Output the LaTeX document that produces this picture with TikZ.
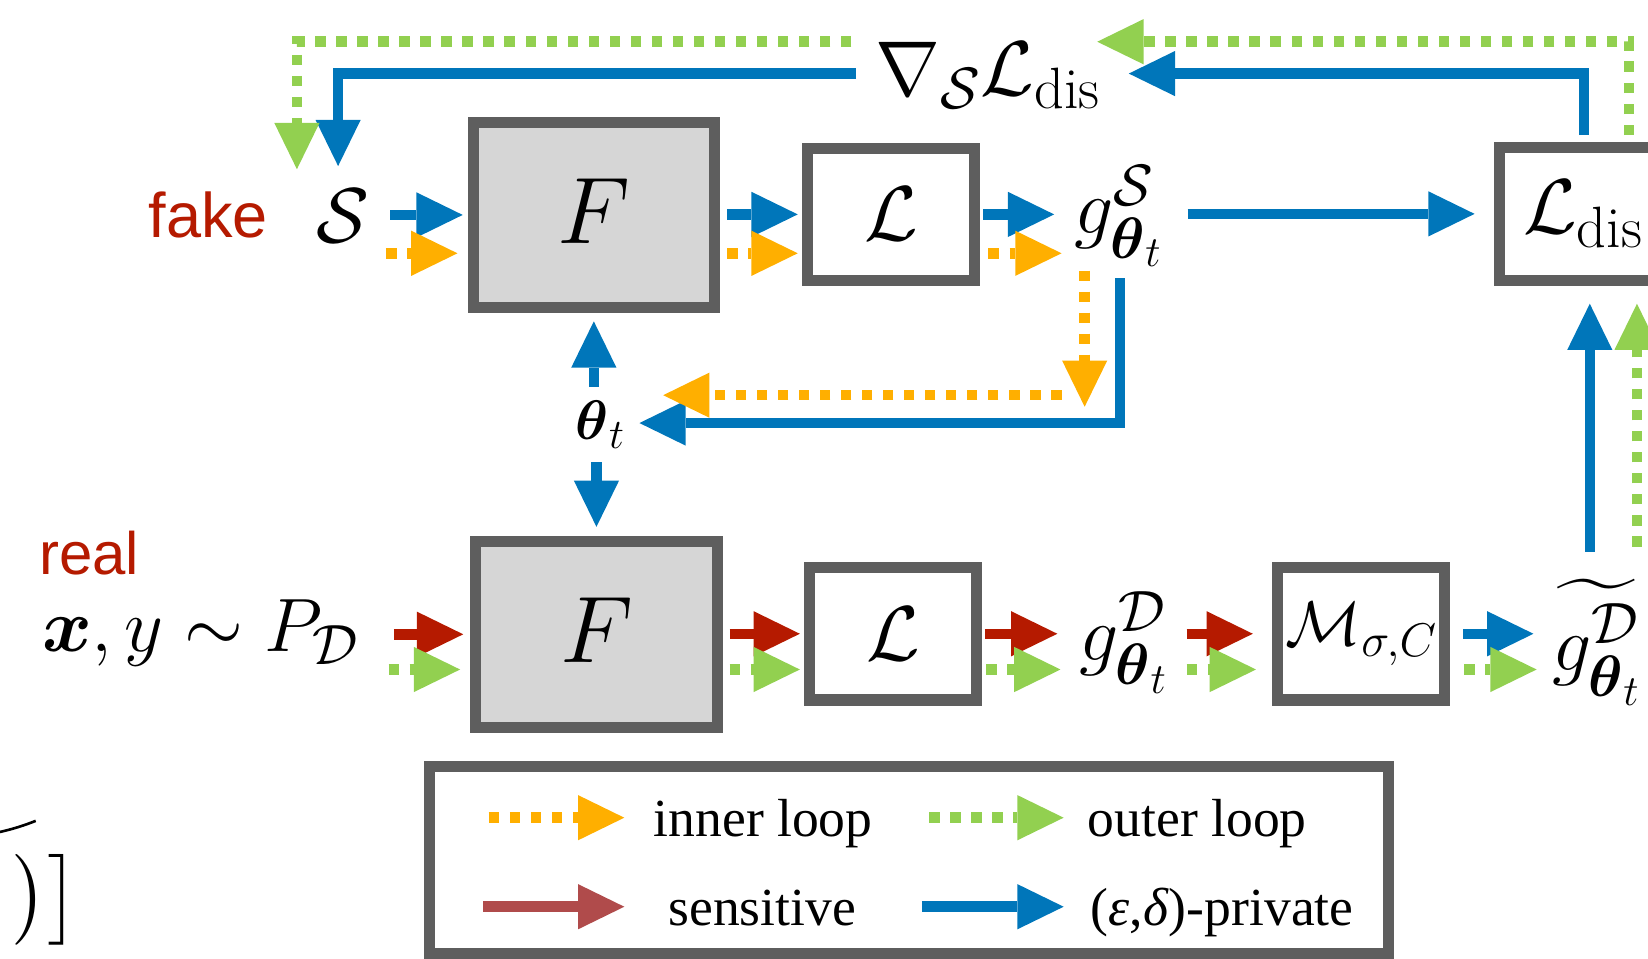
\RequirePackage{fix-cm}
\documentclass[tikz,border=0pt]{standalone}
\usepackage{amsmath}
\usepackage{fontspec}
\usepackage{graphicx}
\newfontfamily\tagface{Liberation Sans}
\newfontfamily\keyface{Liberation Serif}
\usetikzlibrary{arrows.meta,calc}
% let the extension font scale freely
\DeclareFontShape{OMX}{cmex}{m}{n}{<->cmex10}{}
\definecolor{flowblue}{RGB}{0,118,186}
\definecolor{flowred}{RGB}{181,26,0}
\definecolor{flowgreen}{RGB}{146,208,80}
\definecolor{floworange}{RGB}{255,175,0}
\definecolor{keyred}{RGB}{176,75,75}
\definecolor{framegray}{RGB}{94,94,94}
\definecolor{netfill}{RGB}{214,214,214}
\definecolor{tagred}{RGB}{181,26,0}
\newcommand\setsz[1]{\fontsize{#1}{#1}\selectfont}
% big closing paren and bracket taken straight from the extension font
\newcommand\bigclose{{\fontencoding{OMX}\fontfamily{cmex}\selectfont\char"01\char"03}}
% slightly larger scripts than the default ratio
\DeclareMathSizes{74}{74}{55.5}{41}
\DeclareMathSizes{72}{72}{54}{40}
\DeclareMathSizes{60}{60}{45}{33}
\DeclareMathSizes{53}{53}{40}{30}

\begin{document}
\begin{tikzpicture}[x=1pt,y=-1pt,
  smallbox/.style={draw=framegray,line width=10.5pt,fill=white,inner sep=0pt,
    outer sep=0pt,minimum width=159pt,minimum height=126pt},
  netbox/.style={smallbox,fill=netfill,minimum width=229.5pt,minimum height=176.5pt,
    text depth=8pt},
  lbl/.style={inner sep=0pt,outer sep=0pt,anchor=base west},
  flow/.style={line width=10pt,-{Triangle[length=44pt,width=43pt,line width=0pt 0]}},
  bluef/.style={flow,draw=flowblue},
  redf/.style={flow,draw=flowred},
  keyredf/.style={flow,draw=keyred},
  orangef/.style={flow,draw=floworange,dash pattern=on 10pt off 10pt},
  greenf/.style={flow,draw=flowgreen,dash pattern=on 10pt off 10pt},
]
\useasboundingbox (0,0) rectangle (1568,912);

% ---- network and loss blocks ----
\node[netbox] (F1) at (565,204.5) {\setsz{90}$F$};
\node[netbox] (F2) at (567.5,603.5) {\setsz{90}$F$};
\node[smallbox] (L1) at (848,204) {\setsz{74}$\mathcal{L}$};
\node[smallbox] (L2) at (850,603) {\setsz{74}$\mathcal{L}$};
\node[smallbox] (M) at (1295,603) {\setsz{60}$\mathcal{M}_{\sigma,C}$};
\node[smallbox] (Ldis) at (1506,203.5) {\setsz{74}$\mathcal{L}_{\mathrm{dis}}$};

% ---- labels ----
\node[lbl,text=tagred] (fake) at (141.5,226) {\tagface\setsz{60}fake};
\node[lbl,text=tagred] (real) at (37.5,547) {\tagface\setsz{57}real};
\node[inner sep=0pt,outer sep=0pt] (S) at (326,205) {\setsz{74}$\mathcal{S}$};
\node[lbl] (xy) at (40,620) {\setsz{72}$\boldsymbol{x},y\sim P_{\mathcal{D}}$};
\node[lbl] (gS) at (1022,222) {\setsz{74}$g^{\mathcal{S}}_{\boldsymbol{\theta}_t}$};
\node[lbl] (gD) at (1027,628) {\setsz{74}$g^{\mathcal{D}}_{\boldsymbol{\theta}_t}$};
\node[lbl] (gt) at (1477,638) {\setsz{74}$\widetilde{g^{\mathcal{D}}_{\boldsymbol{\theta}_t}}$};
\node[lbl] (theta) at (548,418.6) {\setsz{53}$\boldsymbol{\theta}_t$};
\node[lbl] (grad) at (833,90.4) {\setsz{74}$\nabla_{\mathcal{S}}\mathcal{L}_{\mathrm{dis}}$};

% closing delimiters of the objective on the left
\node[anchor=east,inner sep=0pt,outer sep=0pt] (closing) at (75,856.5) {\setsz{72}\bigclose};
\draw[line width=2.5pt] (-2,792) .. controls (12,789) and (24,785) .. (34,781);

% ---- upper (synthetic) row ----
\draw[bluef] ($(F1.west)+(-79,0)$) -- ($(F1.west)+(-10,0)$);
\draw[bluef] ($(F1.east |- L1.west)+(12,0)$) -- ($(L1.west)+(-9.5,0)$);
\draw[bluef] ($(L1.east)+(8,0)$) -- ($(gS.west |- L1.east)+(-19,0)$);
\draw[bluef] ($(Ldis.west)+(-296.5,0)$) -- ($(Ldis.west)+(-23.5,0)$);
\draw[orangef] ($(F1.west)+(-83,36.5)$) -- ($(F1.west)+(-15,36.5)$);
\draw[orangef] ($(F1.east |- L1.west)+(12,37)$) -- ($(L1.west)+(-9.5,37)$);
\draw[orangef] ($(L1.east)+(13,37)$) -- ($(gS.west |- L1.east)+(-12,37)$);

% ---- gradient of the distance back to the synthetic set ----
\draw[bluef] ($(Ldis.north)+(1,-12)$) |- ($(grad.base west)+(241,-20.4)$);
\draw[bluef] ($(grad.base west)+(-18.4,-20.4)$) -| ($(S.center)+(-4.3,-47)$);
\draw[greenf] ($(Ldis.north)+(44,-12)$) |- ($(grad.base west)+(211,-50.7)$);
\draw[greenf] ($(grad.base west)+(-23,-50.7)$) -| ($(S.center)+(-43.5,-44)$);

% ---- inner update of the parameters ----
\draw[bluef] ($(gS.base west)+(43.5,42.8)$) |- ($(theta.base west)+(60.4,-16.1)$);
\draw[orangef] ($(gS.base west)+(10,35.5)$) -- ($(gS.base west)+(10,165)$);
\draw[orangef] ($(gS.base west)+(-12,154)$) -- ($(theta.base west)+(83,-42.6)$);
\draw[bluef] ($(theta.base west)+(17,-50.6)$) -- ($(F1.south)+(0,13)$);
\draw[bluef] ($(theta.base west)+(19.5,21)$) -- ($(F2.north)+(0,-14)$);

% ---- lower (real) row ----
\draw[redf] ($(F2.west)+(-78,0)$) -- ($(F2.west)+(-12,0)$);
\draw[redf] ($(F2.east |- L2.west)+(12,0)$) -- ($(L2.west)+(-9.5,0)$);
\draw[redf] ($(L2.east)+(7.5,0)$) -- ($(L2.east)+(76.5,0)$);
\draw[redf] ($(M.west)+(-86.5,0)$) -- ($(M.west)+(-23.5,0)$);
\draw[bluef] ($(M.east)+(17.5,0)$) -- ($(M.east)+(84.5,0)$);
\draw[greenf] ($(F2.west)+(-83,33.5)$) -- ($(F2.west)+(-15,33.5)$);
\draw[greenf] ($(F2.east |- L2.west)+(12,34)$) -- ($(L2.west)+(-9.5,34)$);
\draw[greenf] ($(L2.east)+(9,34)$) -- ($(L2.east)+(79.5,34)$);
\draw[greenf] ($(M.west)+(-86.5,34)$) -- ($(M.west)+(-20.5,34)$);
\draw[greenf] ($(M.east)+(18.5,34)$) -- ($(M.east)+(87.5,34)$);

% ---- private gradient up to the distance ----
\draw[bluef] ($(gt.base west)+(35.6,-113)$) -- ($(Ldis.south)+(6.6,22.5)$);
\draw[greenf] ($(gt.base west)+(80.5,-118)$) -- ($(Ldis.south)+(51.5,22.5)$);

% ---- legend ----
\node[draw=framegray,line width=10.5pt,minimum width=912pt,minimum height=178pt,
  inner sep=0pt,outer sep=0pt] (legend) at (865,818) {};
\draw[orangef] ($(legend.west)+(56,-40)$) -- ($(legend.west)+(185,-40)$);
\draw[greenf] ($(legend.west)+(475,-40)$) -- ($(legend.west)+(603,-40)$);
\draw[keyredf] ($(legend.west)+(50.6,44.7)$) -- ($(legend.west)+(185,44.7)$);
\draw[bluef] ($(legend.west)+(468,44.7)$) -- ($(legend.west)+(603,44.7)$);
\node[lbl] (kInner) at (622,796) {\keyface\setsz{51}inner loop};
\node[lbl] (kOuter) at (1035,795.5) {\keyface\setsz{51}outer loop};
\node[lbl] (kSens) at (636,881) {\keyface\setsz{51}sensitive};
\node[lbl] (kPriv) at (1038,881) {\keyface\setsz{51}(\textit{ε},\textit{δ})-private};
\end{tikzpicture}
\end{document}
